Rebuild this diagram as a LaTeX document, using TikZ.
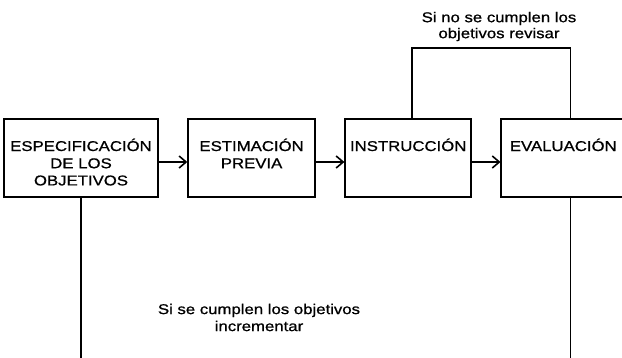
\documentclass[tikz,border=0pt]{standalone}
\usepackage{fontspec}
\setmainfont{Liberation Sans}[FakeStretch=1.18, FakeBold=0.9]
\usetikzlibrary{matrix, arrows.meta}

\tikzset{
  caja/.style = {draw, line width=1.6bp, text width=#1, align=center,
    inner xsep=0pt, inner ysep=0pt, text height=32bp, text depth=46bp,
    font=\fontsize{14.2bp}{17.2bp}\selectfont},
  flecha/.style = {line width=1.6bp, -{Straight Barb[length=7bp,width=12bp]}},
  linea/.style = {line width=1.6bp},
  nota/.style = {align=center, inner sep=0pt,
    font=\fontsize{14.2bp}{16bp}\selectfont}
}

\begin{document}
\begin{tikzpicture}
\useasboundingbox (0,0) rectangle (622bp,-358bp);
\coordinate (fondo) at (0,-358bp);
\matrix (m) [matrix of nodes, column sep = 28.5bp, inner sep=0pt, anchor=north west] at (3bp,-118bp) {
\node(espec)[caja=154bp]{ESPECIFICACIÓN\\DE LOS\\OBJETIVOS}; &
\node(estim)[caja=127bp]{ESTIMACIÓN\\PREVIA}; &
\node(instr)[caja=126bp]{INSTRUCCIÓN}; &
\node(eval)[caja=124bp]{EVALUACIÓN}; \\
};
\draw[flecha] ([yshift=-4bp]espec.east) -- ([yshift=-4bp]estim.west);
\draw[flecha] ([yshift=-4bp]estim.east) -- ([yshift=-4bp]instr.west);
\draw[flecha] ([yshift=-4bp]instr.east) -- ([yshift=-4bp]eval.west);
% lazo de revision
\draw[linea] ([xshift=4bp]instr.north) -- ++(0,70bp) -| ([xshift=7bp]eval.north);
\node(revisar)[nota] at (499bp,-26.5bp) {Si no se cumplen los\\objetivos revisar};
% lazo de incremento
\draw[linea] (espec.south) -- (espec.south |- fondo);
\draw[linea] ([xshift=7bp]eval.south) -- ([xshift=7bp]eval.south |- fondo);
\node(incrementar)[nota, font=\fontsize{14.2bp}{17bp}\selectfont] at (259bp,-317.5bp) {Si se cumplen los objetivos\\incrementar};
\end{tikzpicture}
\end{document}
